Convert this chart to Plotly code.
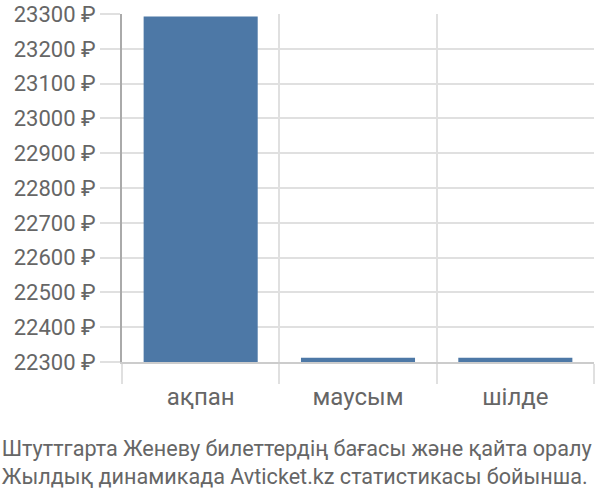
import plotly.graph_objects as go

months = ["ақпан", "маусым", "шілде"]
prices = [23293, 22312, 22312]
y_ticks = [22300, 22400, 22500, 22600, 22700, 22800, 22900, 23000, 23100, 23200, 23300]
y_labels = [f"{v} ₽" for v in y_ticks]
title_lines = [
    "Штуттгарта Женеву билеттердің бағасы және қайта оралу",
    "Жылдық динамикада Avticket.kz статистикасы бойынша.",
]

fig = go.Figure()
fig.add_trace(go.Bar(
    x=months, y=[p - 22300 for p in prices], base=22300,
    marker=dict(color="#4d78a6", line=dict(width=0)),
    hoverinfo="skip",
))

fig.update_layout(
    width=600, height=500,
    margin=dict(l=122, r=6, t=14, b=138, pad=0),
    plot_bgcolor="white", paper_bgcolor="white",
    font=dict(family="Roboto, Liberation Sans, Arial, sans-serif", color="#666666", size=22),
    bargap=0.275,
    showlegend=False,
    title=dict(
        text="<br>".join(title_lines),
        xref="container", yref="container",
        x=0.003, xanchor="left",
        y=0.089, yanchor="middle",
        pad=dict(l=0, r=0, t=0, b=0),
        font=dict(size=21.6, color="#666666"),
    ),
)

fig.update_xaxes(
    type="category",
    tickson="boundaries",
    ticks="outside", ticklen=20, tickcolor="#e0e0e0", tickwidth=2,
    showgrid=True, gridcolor="#e0e0e0", gridwidth=2,
    showline=True, linecolor="#cccccc", linewidth=2,
    tickfont=dict(size=24, color="#666666"),
    ticklabelstandoff=12,
    automargin=False,
)
fig.update_yaxes(
    range=[22300, 23300],
    tickvals=y_ticks, ticktext=y_labels,
    ticks="outside", ticklen=20, tickcolor="#e0e0e0", tickwidth=2,
    showgrid=True, gridcolor="#e0e0e0", gridwidth=2,
    showline=True, linecolor="#aaaaaa", linewidth=2,
    zeroline=False,
    tickfont=dict(size=22, color="#666666"),
    automargin=False,
)

# drop the default body margin so the figure sits at the page corner
fig.write_html("out.html", config={"displayModeBar": False},
               post_script="document.body.style.margin='0';")
